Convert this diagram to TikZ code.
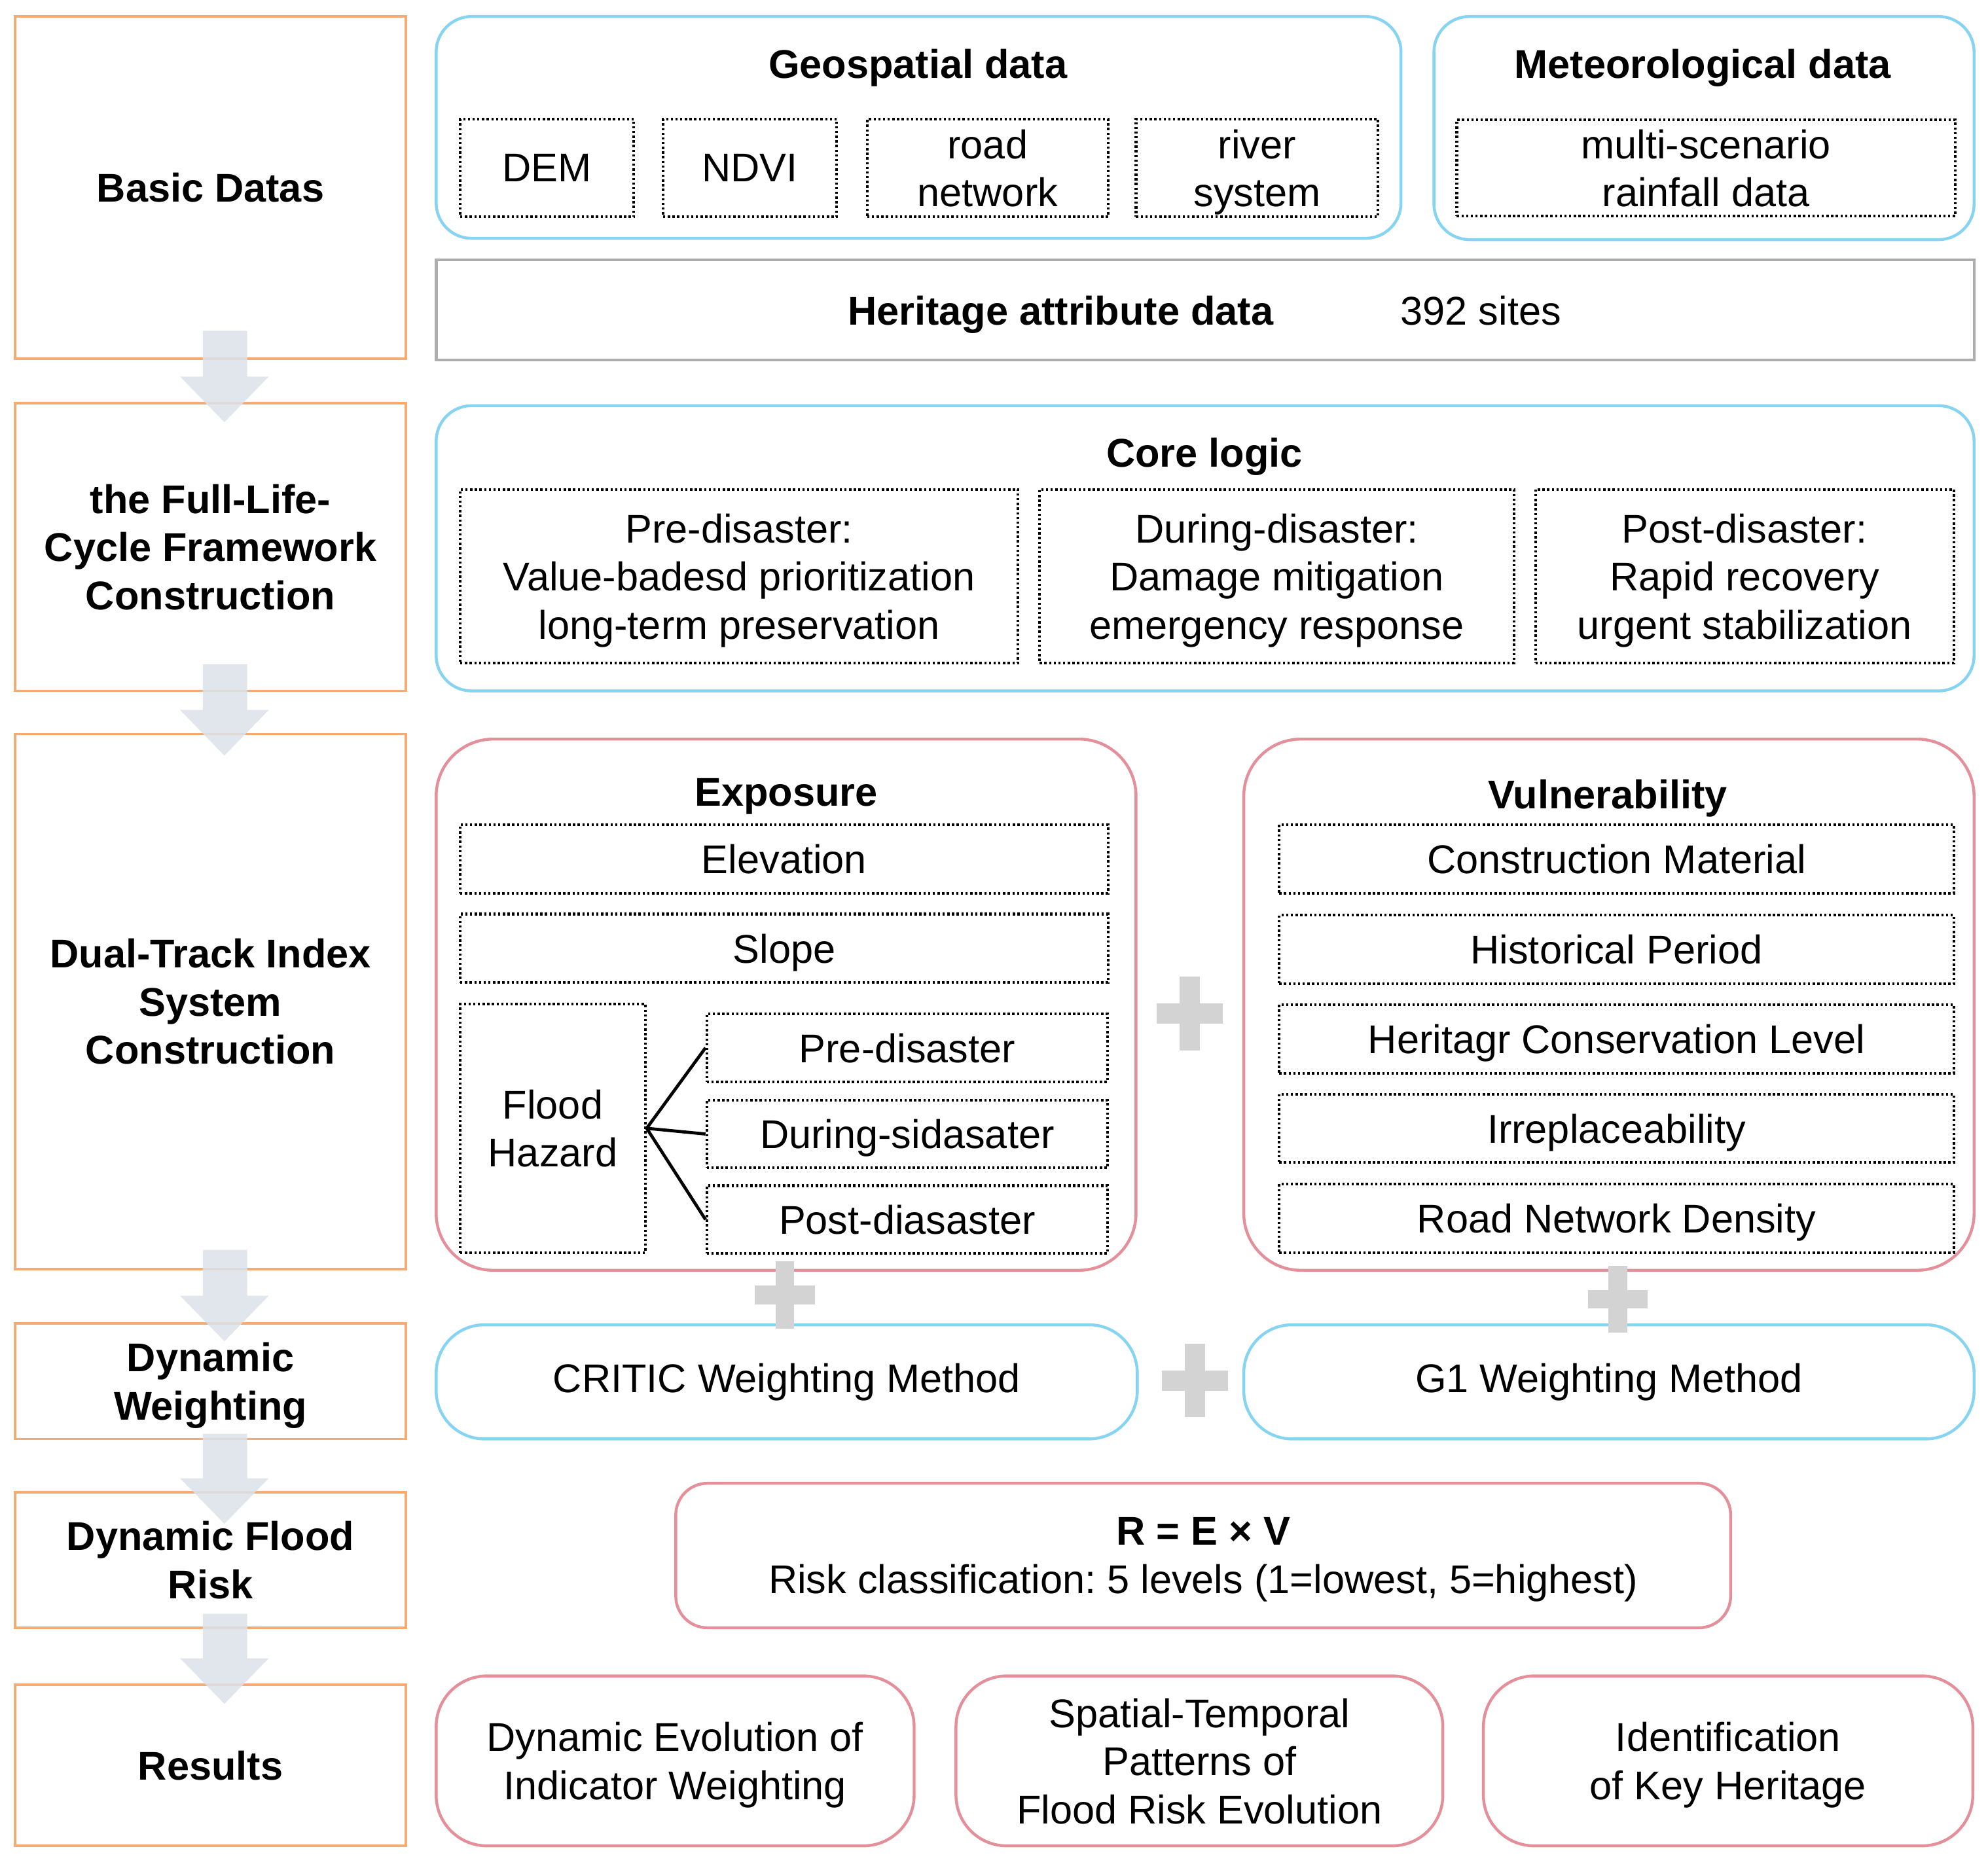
\documentclass[tikz,border=0pt]{standalone}
\usepackage{fontspec}
\setmainfont{Liberation Sans}
\usetikzlibrary{calc}
\definecolor{stageorange}{HTML}{F5AB74}
\definecolor{datablue}{HTML}{86D4F2}
\definecolor{riskpink}{HTML}{E3909A}
\definecolor{framegray}{HTML}{ADADAD}
\definecolor{arrowgray}{HTML}{DCE2EA}
\definecolor{plusgray}{HTML}{D3D3D3}
\tikzset{
    stage/.style={draw=stageorange,line width=1.1pt,align=center,font=\bfseries},
    databox/.style={draw=datablue,line width=1.3pt,rounded corners=0.56cm},
    riskbox/.style={draw=riskpink,line width=1.3pt,rounded corners=0.9cm},
    itembox/.style={draw,line width=1.2pt,dash pattern=on 1pt off 1.1pt,align=center,inner sep=0pt},
    plussign/.pic={
        \fill[plusgray] (-0.52,-0.16) rectangle (0.52,0.16);
        \fill[plusgray] (-0.16,-0.58) rectangle (0.16,0.58);
    },
}
% big down arrow between two stages: from, to, start above from.south, tip below to.north
\newcommand{\flowarrow}[4]{%
    \fill[arrowgray,fill opacity=0.85] ($(#1.south)+(-0.12,#3)$) -- ($(#1.south)+(0.58,#3)$)
        -- ($(#2.north)+(0.58,0.72-#4)$) -- ($(#2.north)+(0.92,0.72-#4)$)
        -- ($(#2.north)+(0.22,-#4)$) -- ($(#2.north)+(-0.48,0.72-#4)$)
        -- ($(#2.north)+(-0.12,0.72-#4)$) -- cycle;}

\begin{document}
\fontsize{18}{21.6}\selectfont\frenchspacing
\begin{tikzpicture}[every node/.style={text depth=0pt}]
    \useasboundingbox (0,0) rectangle (31.36,-29.46);
    % stages
    \node[stage,minimum width=6.16cm,minimum height=5.4cm] (basic) at (3.32,-2.96) {Basic Datas};
    \node[stage,minimum width=6.16cm,minimum height=4.54cm] (cycle) at (3.32,-8.63) {the Full-Life-\\Cycle Framework\\Construction};
    \node[stage,minimum width=6.16cm,minimum height=8.44cm] (index) at (3.32,-15.8) {Dual-Track Index\\System\\Construction};
    \node[stage,minimum width=6.16cm,minimum height=1.82cm] (weight) at (3.32,-21.79) {Dynamic\\Weighting};
    \node[stage,minimum width=6.16cm,minimum height=2.14cm] (risk) at (3.32,-24.61) {Dynamic Flood\\Risk};
    \node[stage,minimum width=6.16cm,minimum height=2.54cm] (results) at (3.32,-27.85) {Results};

    % basic data
    \node[databox,minimum width=15.22cm,minimum height=3.5cm] (geo) at (14.49,-2.01) {};
    \node[font=\bfseries] (geotitle) at (14.48,-1.0) {Geospatial data};
    \node[itembox,minimum width=2.74cm,minimum height=1.54cm] (dem) at (8.63,-2.65) {DEM};
    \node[itembox,minimum width=2.74cm,minimum height=1.54cm] (ndvi) at (11.83,-2.65) {NDVI};
    \node[itembox,minimum width=3.8cm,minimum height=1.54cm] (road) at (15.58,-2.65) {road\\network};
    \node[itembox,minimum width=3.82cm,minimum height=1.54cm] (river) at (19.83,-2.65) {river\\system};
    \node[databox,minimum width=8.52cm,minimum height=3.52cm] (met) at (26.88,-2.02) {};
    \node[font=\bfseries] (mettitle) at (26.86,-1.0) {Meteorological data};
    \node[itembox,minimum width=7.86cm,minimum height=1.52cm] (rain) at (26.91,-2.65) {multi-scenario\\rainfall data};
    \node[draw=framegray,line width=1.3pt,minimum width=24.26cm,minimum height=1.58cm] (heritage) at (19.01,-4.89) {};
    \node[font=\bfseries] (herititle) at (16.73,-4.9) {Heritage attribute data};
    \node (sites) at (23.36,-4.9) {392 sites};

    % core logic
    \node[databox,minimum width=24.26cm,minimum height=4.5cm] (core) at (19.01,-8.65) {};
    \node[font=\bfseries] (coretitle) at (19.0,-7.14) {Core logic};
    \node[itembox,minimum width=8.8cm,minimum height=2.74cm] (pre) at (11.66,-9.09) {Pre-disaster:\\Value-badesd prioritization\\long-term preservation};
    \node[itembox,minimum width=7.48cm,minimum height=2.74cm] (during) at (20.14,-9.09) {During-disaster:\\Damage mitigation\\emergency response};
    \node[itembox,minimum width=6.6cm,minimum height=2.74cm] (post) at (27.52,-9.09) {Post-disaster:\\Rapid recovery\\urgent stabilization};

    % exposure
    \node[riskbox,minimum width=11.04cm,minimum height=8.38cm] (expo) at (12.4,-15.85) {};
    \node[font=\bfseries] (expotitle) at (12.4,-12.5) {Exposure};
    \node[itembox,minimum width=10.22cm,minimum height=1.08cm] (elev) at (12.37,-13.55) {Elevation};
    \node[itembox,minimum width=10.22cm,minimum height=1.08cm] (slope) at (12.37,-14.96) {Slope};
    \node[itembox,minimum width=2.92cm,minimum height=3.92cm] (hazard) at (8.72,-17.8) {Flood\\Hazard};
    \node[itembox,minimum width=6.32cm,minimum height=1.07cm] (hpre) at (14.31,-16.53) {Pre-disaster};
    \node[itembox,minimum width=6.32cm,minimum height=1.07cm] (hduring) at (14.31,-17.89) {During-sidasater};
    \node[itembox,minimum width=6.32cm,minimum height=1.07cm] (hpost) at (14.31,-19.24) {Post-diasaster};
    \draw[line width=1.4pt] (hazard.east) -- (hpre.west);
    \draw[line width=1.4pt] (hazard.east) -- (hduring.west);
    \draw[line width=1.4pt] (hazard.east) -- (hpost.west);

    % vulnerability
    \node[riskbox,minimum width=11.52cm,minimum height=8.38cm] (vuln) at (25.38,-15.85) {};
    \node[font=\bfseries] (vulntitle) at (25.36,-12.53) {Vulnerability};
    \node[itembox,minimum width=10.64cm,minimum height=1.08cm] (material) at (25.5,-13.55) {Construction Material};
    \node[itembox,minimum width=10.64cm,minimum height=1.08cm] (period) at (25.5,-14.98) {Historical Period};
    \node[itembox,minimum width=10.64cm,minimum height=1.08cm] (level) at (25.5,-16.39) {Heritagr Conservation Level};
    \node[itembox,minimum width=10.64cm,minimum height=1.08cm] (irrep) at (25.5,-17.8) {Irreplaceability};
    \node[itembox,minimum width=10.64cm,minimum height=1.08cm] (density) at (25.5,-19.22) {Road Network Density};

    % weighting
    \node[databox,rounded corners=0.76cm,text depth={},minimum width=11.06cm,minimum height=1.8cm] (critic) at (12.41,-21.8) {CRITIC Weighting Method};
    \node[databox,rounded corners=0.76cm,text depth={},minimum width=11.52cm,minimum height=1.8cm] (gone) at (25.38,-21.8) {G1 Weighting Method};

    % risk
    \node[riskbox,rounded corners=0.5cm,minimum width=16.64cm,minimum height=2.28cm,align=center] (formula) at (18.98,-24.54) {{\bfseries R = E × V}\\Risk classification: 5 levels (1=lowest, 5=highest)};

    % results
    \node[riskbox,rounded corners=0.8cm,minimum width=7.54cm,minimum height=2.68cm,align=center] (evol) at (10.65,-27.78) {Dynamic Evolution of\\Indicator Weighting};
    \node[riskbox,rounded corners=0.8cm,minimum width=7.68cm,minimum height=2.68cm,align=center] (pattern) at (18.92,-27.78) {Spatial-Temporal\\Patterns of\\Flood Risk Evolution};
    \node[riskbox,rounded corners=0.8cm,minimum width=7.72cm,minimum height=2.68cm,align=center] (key) at (27.26,-27.78) {Identification\\of Key Heritage};

    % arrows and plus signs
    \flowarrow{basic}{cycle}{0.46}{0.32}
    \flowarrow{cycle}{index}{0.44}{0.36}
    \flowarrow{index}{weight}{0.32}{0.30}
    \flowarrow{weight}{risk}{0.10}{0.52}
    \flowarrow{risk}{results}{0.24}{0.32}
    \pic at (18.77,-15.99) {plussign};
    \pic[scale=0.91] at (12.38,-20.43) {plussign};
    \pic[scale=0.91] at (25.52,-20.5) {plussign};
    \pic at (18.85,-21.78) {plussign};
\end{tikzpicture}
\end{document}
